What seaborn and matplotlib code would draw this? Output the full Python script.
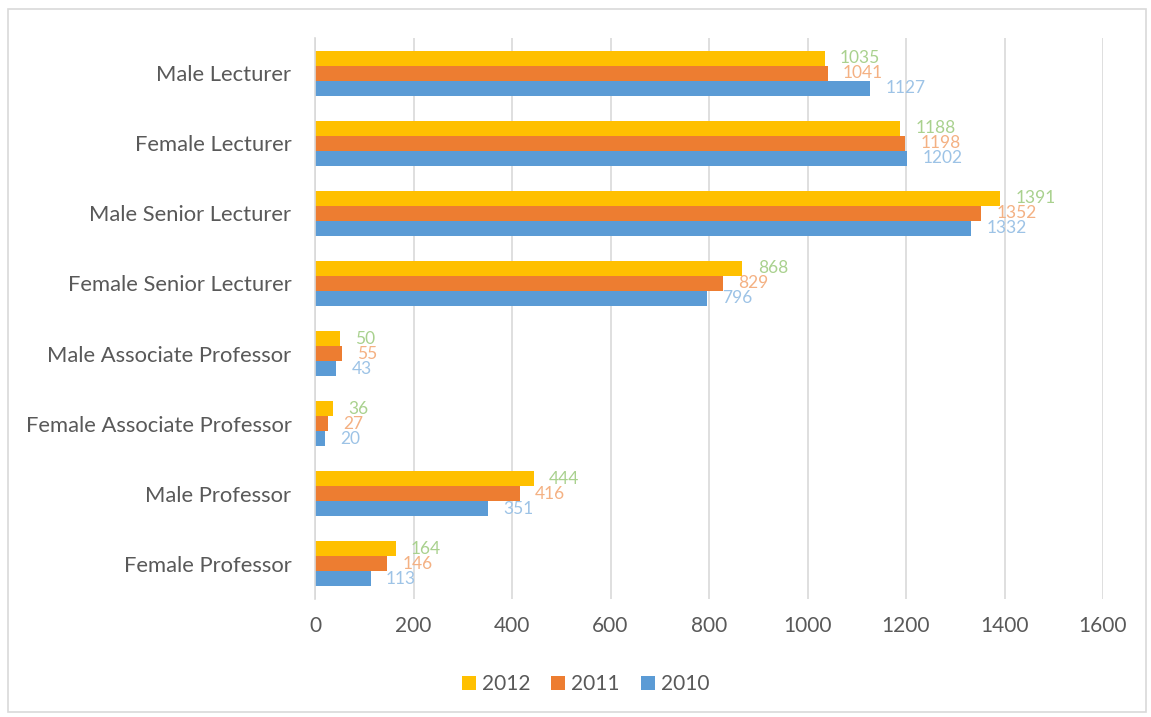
import matplotlib
matplotlib.use("Agg")
import matplotlib.pyplot as plt
import seaborn as sns
import pandas as pd
from matplotlib.patches import Rectangle

categories = ["Male Lecturer", "Female Lecturer", "Male Senior Lecturer",
              "Female Senior Lecturer", "Male Associate Professor",
              "Female Associate Professor", "Male Professor", "Female Professor"]
years = ["2012", "2011", "2010"]
v2012 = [1035, 1188, 1391, 868, 50, 36, 444, 164]
v2011 = [1041, 1198, 1352, 829, 55, 27, 416, 146]
v2010 = [1127, 1202, 1332, 796, 43, 20, 351, 113]
xticks = [0, 200, 400, 600, 800, 1000, 1200, 1400, 1600]

bar_colors = ["#FFC000", "#ED7D31", "#5B9BD5"]
label_colors = ["#A9D18E", "#F4B183", "#9DC3E6"]

rows = []
for yr, vals in zip(years, [v2012, v2011, v2010]):
    for c, v in zip(categories, vals):
        rows.append({"cat": c, "year": yr, "value": v})
df = pd.DataFrame(rows)

sns.set_theme(style="white")
plt.rcParams["font.family"] = ["Lato", "DejaVu Sans"]
text_color = "#595959"

W, H = 1151, 717
fig = plt.figure(figsize=(W / 100, H / 100), dpi=100)
ax = fig.add_axes([315 / W, 1 - 599 / H, (1103 - 315) / W, (599 - 38) / H])

sns.barplot(data=df, y="cat", x="value", hue="year", order=categories,
            hue_order=years, palette=bar_colors, orient="h", width=0.64,
            gap=0, linewidth=0, saturation=1, ax=ax, legend=True)

for cont, lc in zip(ax.containers, label_colors):
    ax.bar_label(cont, padding=11, color=lc, fontsize=12.5)

ax.set_xlim(0, 1600)
ax.set_xticks(xticks)
ax.set_xticklabels([str(t) for t in xticks])
ax.set_xlabel("")
ax.set_ylabel("")
ax.grid(axis="x", color="#D9D9D9", linewidth=1.2)
ax.set_axisbelow(True)
for s in ["top", "right", "bottom"]:
    ax.spines[s].set_visible(False)
ax.spines["left"].set_color("#D9D9D9")
ax.spines["left"].set_linewidth(1.2)
ax.tick_params(axis="y", length=0, pad=17, labelsize=15.8, labelcolor=text_color)
ax.tick_params(axis="x", length=0, pad=12, labelsize=15, labelcolor=text_color)

handles, labels = ax.get_legend_handles_labels()
ax.legend_.remove()
fig.legend(handles, labels, loc="center", bbox_to_anchor=(0.5 + 10 / W, 1 - 684 / H),
           ncol=3, frameon=False, fontsize=15, handlelength=0.67,
           handleheight=0.67, handletextpad=0.3, columnspacing=1.0,
           labelcolor=text_color)

fig.patches.append(Rectangle((8 / W, 1 - 712 / H), (1146 - 8) / W, (712 - 9) / H,
                             transform=fig.transFigure, fill=False,
                             edgecolor="#D9D9D9", linewidth=1.2))

fig.savefig("out.png", dpi=100)
